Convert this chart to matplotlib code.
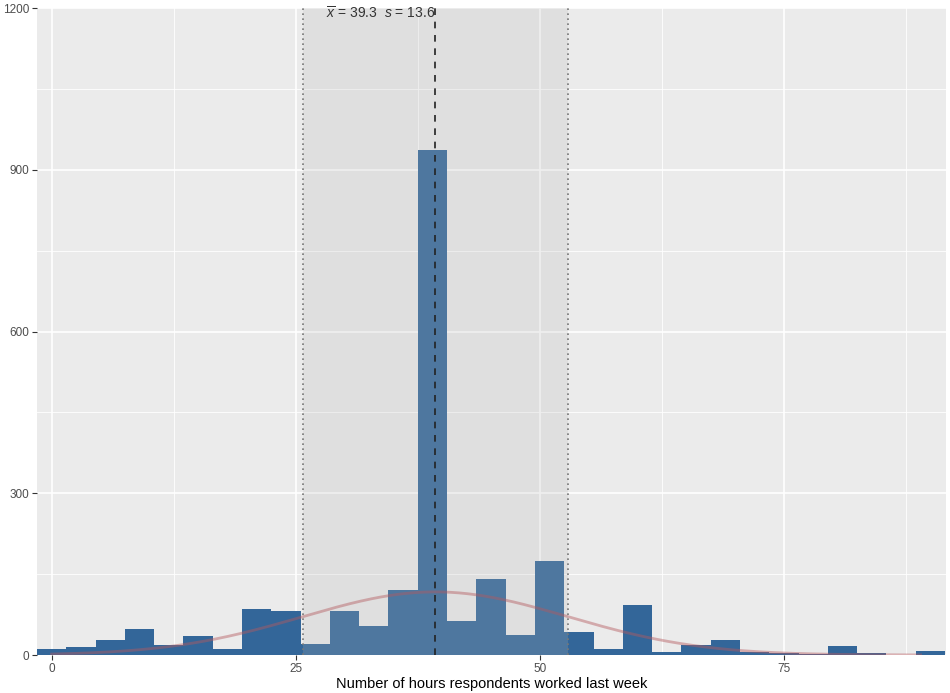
import numpy as np
import matplotlib
matplotlib.use("Agg")
import matplotlib.pyplot as plt

# ---- data ----
bin_centers = [0, 3, 6, 9, 12, 15, 18, 21, 24, 27, 30, 33, 36, 39, 42, 45,
               48, 51, 54, 57, 60, 63, 66, 69, 72, 75, 78, 81, 84, 87, 90]
counts = [11, 15, 28, 48, 18, 35, 11, 85, 82, 20, 82, 54, 121, 937, 63, 141,
          37, 174, 43, 11, 93, 6, 18, 28, 5, 4, 2, 17, 4, 0, 7]
bin_width = 3
mean_hours = 39.3
sd_hours = 13.6
curve_scale = 3990       # area scale of the normal-curve overlay
hours_min, hours_max = 0, 89
x_ticks = [0, 25, 50, 75]
y_ticks = [0, 300, 600, 900, 1200]
x_label = "Number of hours respondents worked last week"

plt.rcParams['font.family'] = ['Liberation Sans', 'DejaVu Sans']
plt.rcParams['mathtext.fontset'] = 'custom'
plt.rcParams['mathtext.it'] = 'Liberation Sans:italic'
plt.rcParams['mathtext.rm'] = 'Liberation Sans'

fig = plt.figure(figsize=(9.5, 6.93), dpi=100)
ax = fig.add_axes([37/950, 38/693, (946-37)/950, (655-8)/693])
ax.set_facecolor('#EBEBEB')

# grid
for v in [12.5, 37.5, 62.5, 87.5]:
    ax.axvline(v, color='white', lw=0.6, zorder=0.5)
for v in x_ticks:
    ax.axvline(v, color='white', lw=1.2, zorder=0.6)
for v in [150, 450, 750, 1050]:
    ax.axhline(v, color='white', lw=0.6, zorder=0.5)
for v in y_ticks:
    ax.axhline(v, color='white', lw=1.2, zorder=0.6)

ax.bar(bin_centers, counts, width=bin_width, color='#336699', linewidth=0, zorder=2)

lo, hi = mean_hours - sd_hours, mean_hours + sd_hours
ax.axvspan(lo, hi, color=(183/255, 183/255, 183/255), alpha=0.21, lw=0, zorder=3)

xs = np.linspace(hours_min, hours_max, 400)
ys = curve_scale / (sd_hours * np.sqrt(2*np.pi)) * np.exp(-0.5*((xs-mean_hours)/sd_hours)**2)
ax.plot(xs, ys, color=(180/255, 90/255, 95/255), alpha=0.45, lw=2.0, zorder=4)

ax.axvline(mean_hours, color='#222222', lw=1.2, ls=(0, (4, 4)), zorder=5)
ax.axvline(lo, color='#777777', lw=1.2, ls=(0, (1, 2)), zorder=5)
ax.axvline(hi, color='#777777', lw=1.2, ls=(0, (1, 2)), zorder=5)

ax.text(mean_hours, 1190, r'$\overline{x}$ = %.1f  $s$ = %.1f' % (mean_hours, sd_hours),
        ha='right', va='center', fontsize=10, color='#333333', zorder=6)

ax.set_xlim(bin_centers[0] - bin_width/2, bin_centers[-1] + bin_width/2 + 0.1)
ax.set_ylim(0, 1200)
ax.set_xticks(x_ticks)
ax.set_yticks(y_ticks)
ax.tick_params(axis='both', length=3.5, width=0.8, color='#333333',
               labelcolor='#4D4D4D', labelsize=8.5, pad=2)
for s in ax.spines.values():
    s.set_visible(False)
ax.set_xlabel(x_label, fontsize=10.5, color='black', labelpad=2)

fig.savefig('out.png', dpi=100, facecolor='white')
